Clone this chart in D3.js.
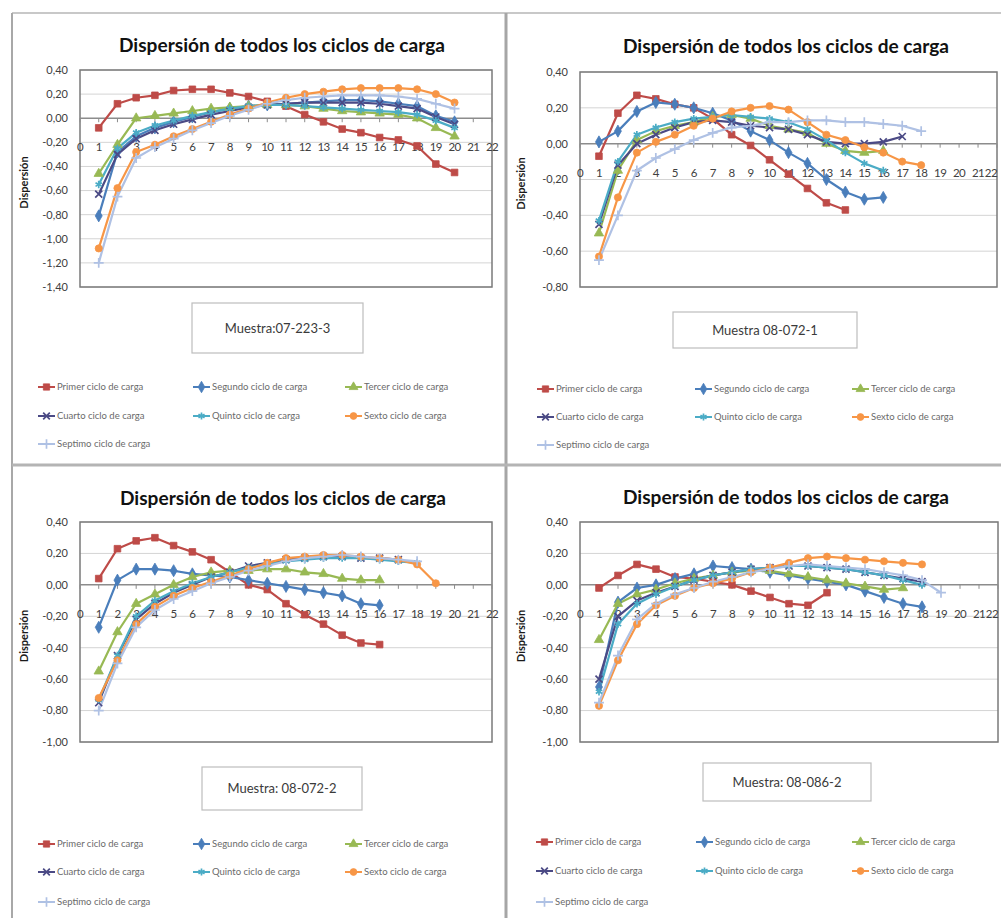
<!DOCTYPE html>
<html><head><meta charset="utf-8">
<script src="https://cdn.jsdelivr.net/npm/d3@7"></script>
<style>body{margin:0;background:#fff}svg{display:block}</style>
</head><body>
<svg id="c" width="1001" height="918"></svg>
<script>
// ---------- data ----------
const xTicks = d3.range(0, 23);
const seriesNames = ["Primer ciclo de carga","Segundo ciclo de carga","Tercer ciclo de carga","Cuarto ciclo de carga","Quinto ciclo de carga","Sexto ciclo de carga","Septimo ciclo de carga"];
const chartTitle = "Dispersión de todos los ciclos de carga";
const yAxisTitle = "Dispersión";
const sampleLabels = ["Muestra:07-223-3","Muestra 08-072-1","Muestra: 08-072-2","Muestra: 08-086-2"];

const yTicks1 = [0.4,0.2,0,-0.2,-0.4,-0.6,-0.8,-1.0,-1.2,-1.4];
const yTicks2 = [0.4,0.2,0,-0.2,-0.4,-0.6,-0.8];
const yTicks3 = [0.4,0.2,0,-0.2,-0.4,-0.6,-0.8,-1.0];
const yTicks4 = [0.4,0.2,0,-0.2,-0.4,-0.6,-0.8,-1.0];

// Panel 1: Muestra 07-223-3
const p1Primer  = [-0.08,0.12,0.17,0.19,0.23,0.24,0.24,0.21,0.18,0.14,0.10,0.03,-0.03,-0.09,-0.12,-0.16,-0.18,-0.23,-0.38,-0.45];
const p1Segundo = [-0.81,-0.28,-0.15,-0.08,-0.03,0.01,0.05,0.08,0.10,0.11,0.12,0.13,0.14,0.15,0.15,0.14,0.12,0.10,0.02,-0.03];
const p1Tercer  = [-0.46,-0.22,0.00,0.02,0.04,0.06,0.08,0.09,0.10,0.11,0.11,0.10,0.08,0.06,0.05,0.04,0.03,0.00,-0.08,-0.15];
const p1Cuarto  = [-0.63,-0.30,-0.17,-0.10,-0.05,-0.01,0.03,0.06,0.09,0.11,0.12,0.13,0.13,0.13,0.13,0.12,0.10,0.08,0.01,-0.05];
const p1Quinto  = [-0.55,-0.25,-0.12,-0.06,-0.02,0.02,0.05,0.08,0.10,0.11,0.11,0.10,0.09,0.08,0.07,0.06,0.05,0.03,-0.02,-0.08];
const p1Sexto   = [-1.08,-0.58,-0.28,-0.22,-0.15,-0.09,-0.03,0.03,0.08,0.13,0.17,0.20,0.22,0.24,0.25,0.25,0.25,0.24,0.20,0.13];
const p1Septimo = [-1.20,-0.65,-0.33,-0.24,-0.17,-0.10,-0.04,0.02,0.07,0.12,0.15,0.17,0.18,0.19,0.19,0.19,0.18,0.16,0.12,0.08];

// Panel 2: Muestra 08-072-1
const p2Primer  = [-0.07,0.17,0.27,0.25,0.22,0.20,0.14,0.05,-0.01,-0.09,-0.17,-0.25,-0.33,-0.37];
const p2Segundo = [0.01,0.07,0.18,0.23,0.22,0.20,0.17,0.13,0.07,0.02,-0.05,-0.11,-0.20,-0.27,-0.31,-0.30];
const p2Tercer  = [-0.50,-0.15,0.02,0.07,0.10,0.12,0.15,0.16,0.14,0.10,0.08,0.06,0.00,-0.04,-0.05,-0.04];
const p2Cuarto  = [-0.45,-0.12,0.00,0.05,0.09,0.12,0.13,0.12,0.10,0.09,0.08,0.05,0.01,0.00,0.00,0.01,0.04];
const p2Quinto  = [-0.43,-0.10,0.05,0.09,0.12,0.14,0.15,0.16,0.15,0.14,0.12,0.08,0.02,-0.05,-0.11,-0.15];
const p2Sexto   = [-0.63,-0.30,-0.05,0.01,0.05,0.10,0.14,0.18,0.20,0.21,0.19,0.12,0.05,0.02,-0.02,-0.05,-0.10,-0.12];
const p2Septimo = [-0.65,-0.40,-0.15,-0.08,-0.03,0.02,0.06,0.09,0.10,0.12,0.12,0.13,0.13,0.12,0.12,0.11,0.10,0.07];

// Panel 3: Muestra 08-072-2
const p3Primer  = [0.04,0.23,0.28,0.30,0.25,0.21,0.16,0.08,0.00,-0.03,-0.12,-0.19,-0.25,-0.32,-0.37,-0.38];
const p3Segundo = [-0.27,0.03,0.10,0.10,0.09,0.07,0.06,0.05,0.03,0.01,-0.01,-0.03,-0.05,-0.07,-0.12,-0.13];
const p3Tercer  = [-0.55,-0.30,-0.12,-0.06,0.00,0.05,0.08,0.09,0.09,0.10,0.10,0.08,0.07,0.04,0.03,0.03];
const p3Cuarto  = [-0.75,-0.45,-0.22,-0.12,-0.05,0.00,0.05,0.08,0.12,0.14,0.16,0.17,0.18,0.18,0.17,0.17,0.16];
const p3Quinto  = [-0.73,-0.45,-0.20,-0.10,-0.04,0.01,0.05,0.08,0.11,0.13,0.15,0.16,0.17,0.17,0.17,0.16,0.15,0.14];
const p3Sexto   = [-0.72,-0.48,-0.25,-0.14,-0.07,-0.02,0.02,0.06,0.10,0.14,0.17,0.18,0.19,0.19,0.18,0.17,0.16,0.13,0.01];
const p3Septimo = [-0.80,-0.50,-0.27,-0.16,-0.09,-0.04,0.01,0.05,0.09,0.12,0.15,0.17,0.18,0.19,0.18,0.17,0.16,0.15];

// Panel 4: Muestra 08-086-2
const p4Primer  = [-0.02,0.06,0.13,0.10,0.05,0.04,0.02,0.00,-0.04,-0.08,-0.12,-0.13,-0.05];
const p4Segundo = [-0.65,-0.11,-0.02,0.00,0.04,0.07,0.12,0.11,0.10,0.08,0.06,0.04,0.02,0.00,-0.04,-0.08,-0.12,-0.14];
const p4Tercer  = [-0.35,-0.12,-0.06,-0.03,0.01,0.04,0.06,0.08,0.09,0.09,0.07,0.05,0.03,0.01,-0.01,-0.03,-0.02];
const p4Cuarto  = [-0.60,-0.20,-0.10,-0.05,-0.01,0.03,0.06,0.08,0.10,0.11,0.12,0.12,0.11,0.10,0.08,0.06,0.04,0.02];
const p4Quinto  = [-0.68,-0.25,-0.12,-0.06,-0.01,0.03,0.06,0.08,0.10,0.11,0.12,0.12,0.11,0.10,0.08,0.06,0.03,0.00];
const p4Sexto   = [-0.77,-0.48,-0.25,-0.13,-0.07,-0.02,0.01,0.04,0.08,0.11,0.14,0.17,0.18,0.17,0.16,0.15,0.14,0.13];
const p4Septimo = [-0.75,-0.45,-0.22,-0.12,-0.06,-0.02,0.02,0.05,0.08,0.10,0.12,0.13,0.12,0.11,0.10,0.08,0.06,0.03,-0.05];

// ---------- styles ----------
const seriesColors = ["#BE4B48","#4A7EBB","#98B954","#4B4A85","#4BACC6","#F79646","#AFC1E4"];
const symTimes = d3.symbolTimes || d3.symbolCross;
const symPlus = d3.symbolPlus || d3.symbolCross;
const symAst = d3.symbolAsterisk || d3.symbolStar;
const seriesSymbols = [
  {t:d3.symbolSquare, s:44, fill:true},
  {t:d3.symbolDiamond, s:42, fill:true},
  {t:d3.symbolTriangle, s:38, fill:true},
  {t:symTimes, s:34, fill:false},
  {t:symAst, s:38, fill:false},
  {t:d3.symbolCircle, s:40, fill:true},
  {t:symPlus, s:34, fill:false}
];

const loc = d3.formatLocale({decimal:",", thousands:".", grouping:[3], currency:["","€"], minus:"-"});
const fmt = loc.format(".2f");

const panels = [
  {series:[p1Primer,p1Segundo,p1Tercer,p1Cuarto,p1Quinto,p1Sexto,p1Septimo], ticks:yTicks1,
   x0:80, x1:492, y0:70, y1:287, titleX:282, titleY:46, yTitleX:24,
   box:[192,303,171,50], legX:[38,193,345], legY:[387,416,444], label:sampleLabels[0]},
  {series:[p2Primer,p2Segundo,p2Tercer,p2Cuarto,p2Quinto,p2Sexto,p2Septimo], ticks:yTicks2,
   x0:580, x1:997, y0:72, y1:287, titleX:786, titleY:47, yTitleX:521,
   box:[673,312,184,36], legX:[537,695,852], legY:[389,417,445], label:sampleLabels[1]},
  {series:[p3Primer,p3Segundo,p3Tercer,p3Cuarto,p3Quinto,p3Sexto,p3Septimo], ticks:yTicks3,
   x0:80, x1:492, y0:522, y1:742, titleX:283, titleY:499, yTitleX:24,
   box:[202,767,160,43], legX:[38,193,345], legY:[844,872,902], label:sampleLabels[2]},
  {series:[p4Primer,p4Segundo,p4Tercer,p4Cuarto,p4Quinto,p4Sexto,p4Septimo], ticks:yTicks4,
   x0:580, x1:998, y0:522, y1:742, titleX:786, titleY:498, yTitleX:521,
   box:[703,763,168,38], legX:[536,696,852], legY:[842,871,902], label:sampleLabels[3]}
];

const svg = d3.select("#c");

// frame lines
svg.append("line").attr("x1",12).attr("x2",1001).attr("y1",13).attr("y2",13).attr("stroke","#C8C8C8").attr("stroke-width",2);
svg.append("line").attr("x1",12).attr("x2",12).attr("y1",13).attr("y2",918).attr("stroke","#A8A8A8").attr("stroke-width",2);
svg.append("line").attr("x1",506).attr("x2",506).attr("y1",13).attr("y2",918).attr("stroke","#A6A6A6").attr("stroke-width",3);
svg.append("line").attr("x1",12).attr("x2",1001).attr("y1",465).attr("y2",465).attr("stroke","#B4B4B4").attr("stroke-width",3);

function drawMarker(g, idx, x, y, scale){
  const sm = seriesSymbols[idx];
  const p = g.append("path")
    .attr("d", d3.symbol().type(sm.t).size(sm.s*(scale||1))())
    .attr("transform", `translate(${x},${y})`);
  if (sm.fill) p.attr("fill", seriesColors[idx]).attr("stroke", seriesColors[idx]).attr("stroke-width",0.8);
  else p.attr("fill","none").attr("stroke", seriesColors[idx]).attr("stroke-width",1.7);
}

panels.forEach(P => {
  const g = svg.append("g");
  const x = d3.scaleLinear().domain([0,22]).range([P.x0,P.x1]);
  const y = d3.scaleLinear().domain([d3.min(P.ticks), d3.max(P.ticks)]).range([P.y1,P.y0]);

  // gridlines
  g.selectAll("line.grid").data(P.ticks.filter(t=>t!==0)).join("line")
    .attr("x1",P.x0).attr("x2",P.x1).attr("y1",d=>y(d)).attr("y2",d=>y(d))
    .attr("stroke","#D4D4D4").attr("stroke-width",1);

  // plot border
  g.append("rect").attr("x",P.x0).attr("y",P.y0).attr("width",P.x1-P.x0).attr("height",P.y1-P.y0)
    .attr("fill","none").attr("stroke","#7A7A7A").attr("stroke-width",1.5);

  // y axis labels
  g.selectAll("text.yt").data(P.ticks).join("text")
    .attr("x",P.x0-12).attr("y",d=>y(d)).attr("dy","0.35em")
    .attr("text-anchor","end").attr("font-family","Lato, 'Open Sans', sans-serif")
    .attr("font-size",11).attr("fill","#404040").text(d=>fmt(d));

  // x axis at y = 0
  const y0 = y(0);
  g.append("line").attr("x1",P.x0).attr("x2",P.x1).attr("y1",y0).attr("y2",y0)
    .attr("stroke","#8C8C8C").attr("stroke-width",1.5);
  g.selectAll("line.xt").data(xTicks).join("line")
    .attr("x1",d=>x(d)).attr("x2",d=>x(d)).attr("y1",y0).attr("y2",y0+4)
    .attr("stroke","#8C8C8C").attr("stroke-width",1);
  g.selectAll("text.xl").data(xTicks).join("text")
    .attr("x",d=>Math.min(x(d), 1000))
    .attr("y",y0+29).attr("dy","0.35em")
    .attr("text-anchor",d=>x(d)+7>1000 ? "end" : "middle")
    .attr("font-family","Lato, 'Open Sans', sans-serif")
    .attr("font-size",11.5).attr("letter-spacing",-0.6).attr("fill","#404040").text(d=>d);

  // series
  const line = d3.line().x((d,i)=>x(i+1)).y(d=>y(d));
  P.series.forEach((arr, si) => {
    g.append("path").datum(arr).attr("d", line)
      .attr("fill","none").attr("stroke",seriesColors[si]).attr("stroke-width",2.2)
      .attr("stroke-linejoin","round");
  });
  P.series.forEach((arr, si) => {
    arr.forEach((v,i) => drawMarker(g, si, x(i+1), y(v)));
  });

  // title
  g.append("text").attr("x",P.titleX).attr("y",P.titleY).attr("dy","0.35em")
    .attr("text-anchor","middle").attr("font-family","Lato, 'Open Sans', sans-serif")
    .attr("font-weight","bold").attr("font-size",18).attr("fill","#111")
    .attr("textLength",326).attr("lengthAdjust","spacingAndGlyphs").text(chartTitle);

  // y-axis title
  const cy = (P.y0+P.y1)/2 + 4;
  g.append("text").attr("transform",`translate(${P.yTitleX},${cy}) rotate(-90)`)
    .attr("dy","0.35em").attr("text-anchor","middle").attr("font-family","Lato, 'Open Sans', sans-serif")
    .attr("font-weight","bold").attr("font-size",11).attr("fill","#1a1a1a").text(yAxisTitle);

  // sample box
  const [bx,by,bw,bh] = P.box;
  g.append("rect").attr("x",bx).attr("y",by).attr("width",bw).attr("height",bh)
    .attr("fill","#fff").attr("stroke","#BDBDBD").attr("stroke-width",1.2);
  g.append("text").attr("x",bx+bw/2).attr("y",by+bh/2).attr("dy","0.35em")
    .attr("text-anchor","middle").attr("font-family","Lato, 'Open Sans', sans-serif")
    .attr("font-size",13).attr("fill","#3a3a3a").text(P.label);

  // legend
  seriesNames.forEach((name, si) => {
    const lx = P.legX[si%3], ly = P.legY[Math.floor(si/3)];
    g.append("line").attr("x1",lx).attr("x2",lx+17).attr("y1",ly).attr("y2",ly)
      .attr("stroke",seriesColors[si]).attr("stroke-width",2);
    drawMarker(g, si, lx+8.5, ly, 0.9);
    g.append("text").attr("x",lx+19).attr("y",ly).attr("dy","0.35em")
      .attr("font-family","Lato, 'Open Sans', sans-serif").attr("font-size",9.5)
      .attr("fill","#6a6a6a").text(name);
  });
});
</script>
</body></html>
